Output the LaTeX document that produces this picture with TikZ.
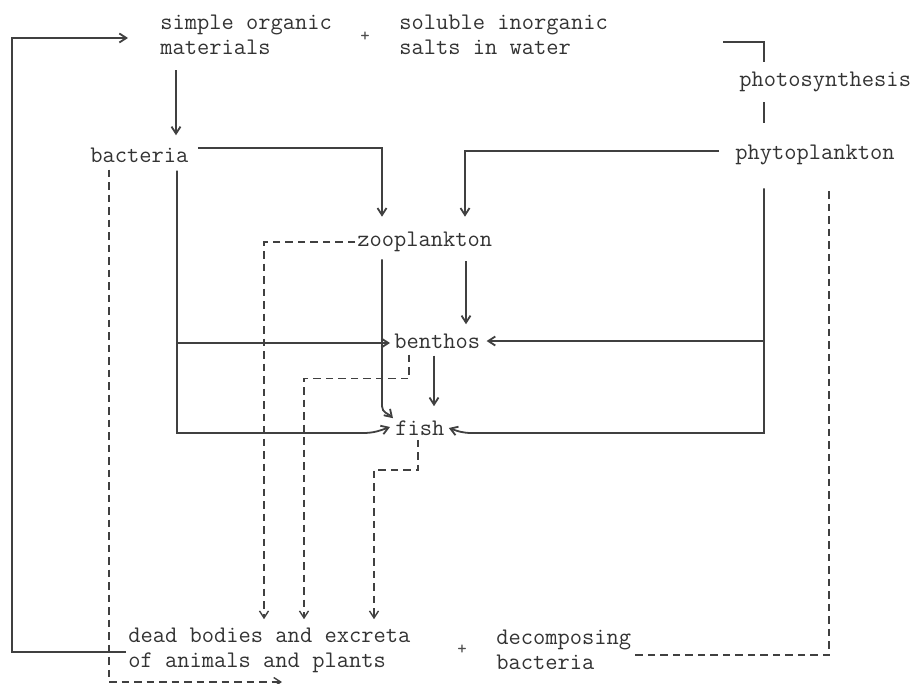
\documentclass[tikz,border=0pt]{standalone}
\usetikzlibrary{arrows.meta,positioning,calc}

\begin{document}
\begin{tikzpicture}[
    x=0.5pt, y=-0.5pt,
    font=\ttfamily\fontsize{11.9}{12.5}\selectfont,
    lbl/.style={anchor=west,align=left,inner sep=1pt,text=black!80},
    plus/.style={inner sep=1pt,text=black!70,font=\ttfamily\fontsize{9}{9}\selectfont},
    flow/.style={draw=black!75,line width=0.9pt},
    arr/.style={flow,-{Straight Barb[length=3.5pt,width=4.5pt]}},
    waste/.style={draw=black!75,line width=0.7pt,dash pattern=on 3.75pt off 2.5pt},
    warr/.style={waste,-{Straight Barb[length=3.5pt,width=4.5pt]}}
  ]
  \useasboundingbox (0,0) rectangle (914,684);

  % nutrients
  \node[lbl] (simple) at (158,35) {simple organic\\materials};
  \node[plus] (plusA) at (365,37) {+};
  \node[lbl] (soluble) at (397,35) {soluble inorganic\\salts in water};
  \node[lbl] (photo) at (737,82) {photosynthesis};

  % organisms
  \node[lbl] (phyto) at (733,155) {phytoplankton};
  \node[lbl] (bacteria) at (88,155) {bacteria};
  \node[lbl] (zoo) at (355,242) {zooplankton};
  \node[lbl] (benthos) at (392,341) {benthos};
  \node[lbl] (fish) at (393,428) {fish};

  % remains
  \node[lbl] (dead) at (126,650) {dead bodies and excreta\\of animals and plants};
  \node[plus] (plusB) at (462,650) {+};
  \node[lbl] (decomp) at (494,650) {decomposing\\bacteria};

  % trunk lines
  \coordinate (loop) at (12,38);
  \coordinate (tB) at ($(bacteria.south west)+(89,6)$);
  \coordinate (tP) at ($(phyto.south west)+(31,21)$);
  \coordinate (bIn) at ($(benthos.west)+(-2,2)$);
  \coordinate (bOut) at ($(dead.west)+(156,32)$);

  % solid flows
  \draw[arr] ($(dead.west)+(0,2)$) -| (loop) -- ($(simple.west)+(-30,3)$);
  \draw[arr] ($(simple.south west)+(18,13)$) -- ($(bacteria.north west)+(88,-10)$);
  \draw[flow] ($(soluble.east)+(113,7)$) -| ($(photo.north west)+(27,-8)$);
  \draw[flow] ($(photo.south west)+(27,8)$) -- ($(phyto.north west)+(31,-20)$);
  \draw[arr] ($(bacteria.east)+(7,-7)$) -| ($(zoo.north west)+(27,-13)$);
  \draw[arr] ($(phyto.west)+(-14,-4)$) -| ($(zoo.north west)+(110,-13)$);
  \draw[arr] (tB |- bIn) -- (bIn);
  \draw[arr] (tP |- benthos.east) -- ($(benthos.east)+(4,0)$);
  \draw[arr] (tB) |- ($(fish.west)+(-30,5)$) to[out=0,in=200] ($(fish.west)+(-3,-1)$);
  \draw[arr] (tP) |- ($(fish.east)+(25,5)$) to[out=180,in=-20] ($(fish.east)+(2,0)$);
  \draw[arr] ($(zoo.south west)+(27,5)$) -- ($(fish.north west)+(-11,-12)$)
    to[out=-90,in=135] (fish.north west);
  \draw[arr] ($(zoo.south west)+(111,7)$) -- ($(benthos.north west)+(74,-7)$);
  \draw[arr] ($(benthos.south west)+(42,5)$) -- ($(fish.north west)+(41,-12)$);

  % dashed flows
  \draw[warr] (zoo.west) -| ($(dead.north west)+(138,-6)$);
  \draw[warr] ($(benthos.south west)+(17,4)$) -- ++(0,24) -| ($(dead.north west)+(178,-6)$);
  \draw[warr] ($(fish.south west)+(25,2)$) -- ++(0,30) -| ($(dead.north west)+(248,-6)$);
  \draw[warr] ($(bacteria.south west)+(21,5)$) |- (bOut);
  \draw[waste] ($(phyto.south west)+(96,24)$) |- ($(decomp.east)+(1,5)$);
\end{tikzpicture}
\end{document}
